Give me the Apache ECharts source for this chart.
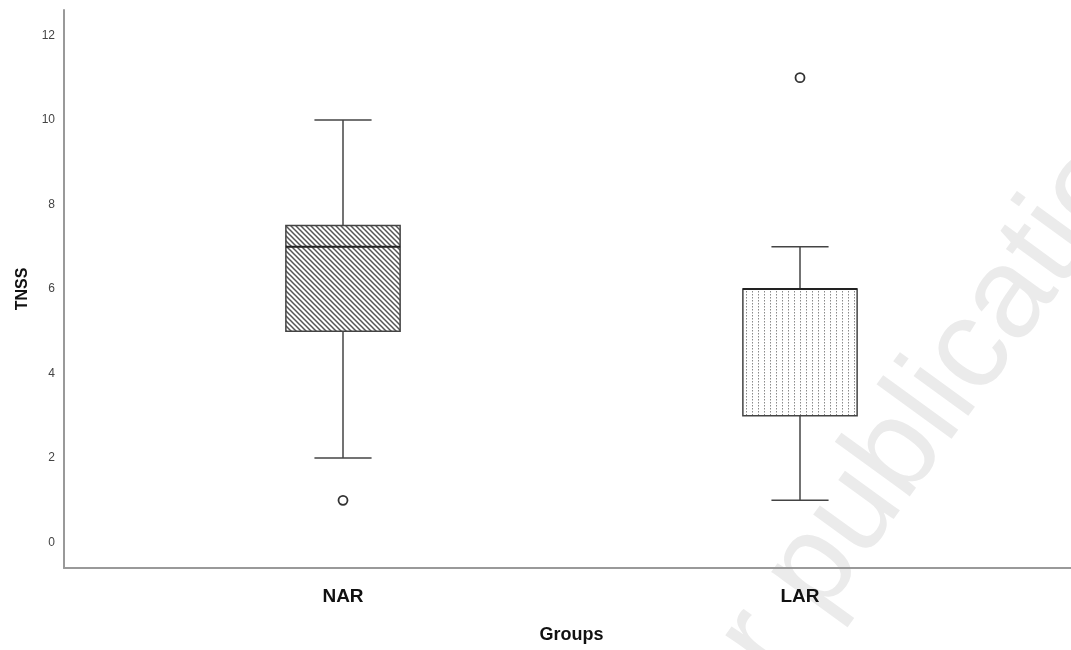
<!DOCTYPE html>
<html>
<head>
<meta charset="utf-8">
<script src="https://cdn.jsdelivr.net/npm/echarts@6/dist/echarts.min.js"></script>
<style>
  html, body { margin: 0; padding: 0; background: #fff; }
  #chart { width: 1071px; height: 650px; }
</style>
</head>
<body>
<div id="chart"></div>
<script>
// data
const categories = ['NAR', 'LAR'];
const whiskerLow = [2, 1];
const q1 = [5, 3];
const median = [7, 6];
const q3 = [7.5, 6];
const whiskerHigh = [10, 7];
const outlierGroup = [0, 1];
const outlierValue = [1, 11];

// fill patterns for the two boxes
function hatchPattern() {
  let c = document.createElement('canvas');
  c.width = 5; c.height = 5;
  let ctx = c.getContext('2d');
  ctx.strokeStyle = '#555';
  ctx.lineWidth = 1.5;
  ctx.beginPath();
  ctx.moveTo(-1, -1); ctx.lineTo(6, 6);
  ctx.moveTo(-1, 4); ctx.lineTo(1, 6);
  ctx.moveTo(4, -1); ctx.lineTo(6, 1);
  ctx.stroke();
  return c;
}
function dotPattern() {
  let c = document.createElement('canvas');
  c.width = 6; c.height = 3;
  let ctx = c.getContext('2d');
  ctx.fillStyle = '#8a8a8a';
  ctx.fillRect(2, 0, 1, 1.5);
  return c;
}
const patterns = [hatchPattern(), dotPattern()];

let boxData = categories.map((c, i) => [i, whiskerLow[i], q1[i], median[i], q3[i], whiskerHigh[i]]);
let outliers = outlierGroup.map((g, i) => [g, outlierValue[i]]);

let chart = echarts.init(document.getElementById('chart'));

const lineColor = '#444';
const font = 'Liberation Sans, Arial, sans-serif';

option = {
  animation: false,
  backgroundColor: '#fff',
  graphic: [
    {
      type: 'text',
      silent: true,
      z: -10,
      x: 918,
      y: 425,
      rotation: 54 * Math.PI / 180,
      style: {
        text: 'for publication',
        font: '128px ' + font,
        fill: '#ebebeb',
        textAlign: 'center',
        textVerticalAlign: 'middle'
      }
    }
  ],
  grid: [
    { left: 64, right: 0, top: 10, bottom: 82 },
    { left: 114.5, right: 42.5, top: 10, bottom: 82 }
  ],
  xAxis: [
    {
      gridIndex: 0,
      type: 'value',
      min: 0,
      max: 1,
      axisLine: { show: true, onZero: false, lineStyle: { color: '#999', width: 2 } },
      axisTick: { show: false },
      axisLabel: { show: false },
      splitLine: { show: false }
    },
    {
      gridIndex: 1,
      type: 'category',
      data: categories,
      axisLine: { show: false },
      axisTick: { show: false },
      axisLabel: {
        margin: 19,
        color: '#111',
        fontWeight: 'bold',
        fontSize: 19,
        fontFamily: font
      },
      name: 'Groups',
      nameLocation: 'middle',
      nameGap: 58,
      nameTextStyle: { color: '#111', fontWeight: 'bold', fontSize: 18, fontFamily: font }
    }
  ],
  yAxis: [
    {
      gridIndex: 0,
      type: 'value',
      min: -0.6,
      max: 12.6,
      minInterval: 2,
      maxInterval: 2,
      axisLine: { show: true, lineStyle: { color: '#999', width: 2 } },
      axisTick: { show: false },
      splitLine: { show: false },
      axisLabel: {
        margin: 9,
        color: '#444',
        fontSize: 12,
        fontFamily: font,
        showMinLabel: false,
        showMaxLabel: false,
        formatter: v => (Number.isInteger(v) ? String(v) : '')
      },
      name: 'TNSS',
      nameLocation: 'middle',
      nameGap: 33,
      nameTextStyle: { color: '#111', fontWeight: 'bold', fontSize: 16, fontFamily: font }
    },
    {
      gridIndex: 1,
      type: 'value',
      min: -0.6,
      max: 12.6,
      show: false
    }
  ],
  series: [
    {
      type: 'custom',
      xAxisIndex: 1,
      yAxisIndex: 1,
      data: boxData,
      renderItem: function (params, api) {
        let cat = api.value(0);
        let x = api.coord([cat, 0])[0];
        let band = api.size([1, 0])[0];
        let half = band * 0.125;
        let cap = band * 0.0625;
        let yLow = api.coord([cat, api.value(1)])[1];
        let yQ1 = api.coord([cat, api.value(2)])[1];
        let yMed = api.coord([cat, api.value(3)])[1];
        let yQ3 = api.coord([cat, api.value(4)])[1];
        let yHigh = api.coord([cat, api.value(5)])[1];
        let stroke = { stroke: lineColor, lineWidth: 1.5 };
        return {
          type: 'group',
          children: [
            { type: 'line', shape: { x1: x, y1: yHigh, x2: x, y2: yQ3 }, style: stroke },
            { type: 'line', shape: { x1: x, y1: yQ1, x2: x, y2: yLow }, style: stroke },
            { type: 'line', shape: { x1: x - cap, y1: yHigh, x2: x + cap, y2: yHigh }, style: stroke },
            { type: 'line', shape: { x1: x - cap, y1: yLow, x2: x + cap, y2: yLow }, style: stroke },
            {
              type: 'rect',
              shape: { x: x - half, y: yQ3, width: half * 2, height: yQ1 - yQ3 },
              style: {
                fill: { image: patterns[params.dataIndex], repeat: 'repeat' },
                stroke: lineColor,
                lineWidth: 1.5
              }
            },
            { type: 'line', shape: { x1: x - half, y1: yMed, x2: x + half, y2: yMed }, style: { stroke: '#222', lineWidth: 2.2 } }
          ]
        };
      }
    },
    {
      type: 'scatter',
      xAxisIndex: 1,
      yAxisIndex: 1,
      data: outliers,
      symbol: 'circle',
      symbolSize: 9,
      itemStyle: { color: '#fff', borderColor: '#333', borderWidth: 1.8, opacity: 1 }
    }
  ]
};

chart.setOption(option);
</script>
</body>
</html>
